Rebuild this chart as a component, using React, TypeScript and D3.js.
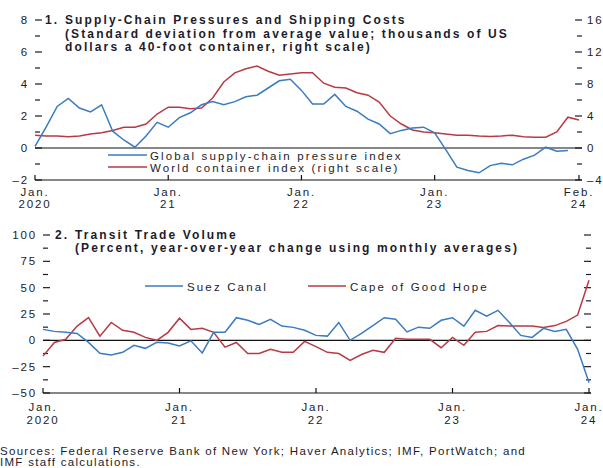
import React from "react";
import * as d3 from "d3";

// ---- Panel 1 data (monthly, Jan 2020 onward) ----
const gscpi = [0.1, 1.3, 2.6, 3.1, 2.5, 2.25, 2.7, 1.05, 0.5, 0.05, 0.75, 1.6, 1.3, 1.9, 2.2, 2.7, 2.9, 2.7, 2.9, 3.2, 3.3, 3.75, 4.2, 4.3, 3.6, 2.75, 2.75, 3.35, 2.6, 2.3, 1.8, 1.5, 0.9, 1.1, 1.25, 1.3, 0.95, -0.1, -1.2, -1.4, -1.55, -1.1, -0.95, -1.05, -0.7, -0.45, 0.05, -0.2, -0.15];
const containerIndex = [1.6, 1.5, 1.5, 1.4, 1.5, 1.75, 1.9, 2.2, 2.6, 2.6, 3.0, 4.25, 5.1, 5.1, 4.9, 5.0, 6.25, 8.25, 9.4, 9.9, 10.25, 9.6, 9.1, 9.25, 9.4, 9.4, 8.1, 7.6, 7.5, 6.9, 6.6, 5.75, 4.0, 3.0, 2.25, 2.0, 1.9, 1.75, 1.6, 1.6, 1.5, 1.45, 1.5, 1.6, 1.4, 1.35, 1.35, 2.0, 3.85, 3.5];
const leftTicks1 = [-2, 0, 2, 4, 6, 8];
const rightTicks1 = [-4, 0, 4, 8, 12, 16];
const xTicks1 = [
  { m: 0, l1: "Jan.", l2: "2020" },
  { m: 12, l1: "Jan.", l2: "21" },
  { m: 24, l1: "Jan.", l2: "22" },
  { m: 36, l1: "Jan.", l2: "23" },
  { m: 49, l1: "Feb.", l2: "24" },
];

// ---- Panel 2 data (monthly, Jan 2020 - Jan 2024) ----
const suez = [10.4, 8.5, 7.6, 6.6, -2, -12.3, -14, -11.4, -4.7, -7.6, -1.9, -2.5, -5.4, -0.5, -12, 7.6, 7.6, 21.5, 19, 15, 20, 13.5, 12.3, 9.5, 4.7, 4, 17, 0, 6.6, 14, 21.5, 20, 8, 12.5, 11.4, 19, 21.5, 13.5, 28.5, 23, 28.5, 17, 4.7, 2.8, 11.4, 8.5, 10.4, -8.5, -40];
const cape = [-15, -2, 1, 13.5, 21.5, 4, 17, 9.5, 7.6, 2.8, 0, 7.6, 21, 10.4, 11.4, 7.6, -6.5, -2, -12.5, -12.5, -8.5, -11.4, -11.4, -1, -6, -11.4, -12.5, -19, -13.5, -9.5, -11.4, 2, 1, 1, 1, -7, 2.8, -4.7, 7.6, 8.5, 14, 13.5, 13.5, 13.5, 12.3, 14, 18, 24, 57];
const leftTicks2 = [-50, -25, 0, 25, 50, 75, 100];
const xTicks2 = [
  { m: 0, l1: "Jan.", l2: "2020" },
  { m: 12, l1: "Jan.", l2: "21" },
  { m: 24, l1: "Jan.", l2: "22" },
  { m: 36, l1: "Jan.", l2: "23" },
  { m: 48, l1: "Jan.", l2: "24" },
];

const BLUE = "#3b7bbf";
const RED = "#b83a45";
const INK = "#1c1c2a";
const FONT = "'Liberation Sans', Arial, Helvetica, sans-serif";

export default function App() {
  // Panel 1 scales
  const x1 = d3.scaleLinear().domain([0, 49]).range([35, 579]);
  const yL1 = d3.scaleLinear().domain([-2, 8]).range([180, 20]);
  const yR1 = d3.scaleLinear().domain([-4, 16]).range([180, 20]);
  const left1 = 35, right1 = 582;

  // Panel 2 scales
  const x2 = d3.scaleLinear().domain([0, 48]).range([43, 589]);
  const y2 = d3.scaleLinear().domain([-50, 100]).range([393, 235]);
  const left2 = 43, right2 = 591;

  const lineL1 = d3.line<number>().x((_, i) => x1(i)).y((d) => yL1(d));
  const lineR1 = d3.line<number>().x((_, i) => x1(i)).y((d) => yR1(d));
  const line2 = d3.line<number>().x((_, i) => x2(i)).y((d) => y2(d));

  const minorL1 = d3.range(-1, 8, 2);
  const minorR1 = d3.range(-2, 16, 4);
  const minor2 = d3.range(-37.5, 100, 25);

  const txt = { fontFamily: FONT, fontSize: 11.5, fill: INK, letterSpacing: 2.15 } as React.CSSProperties;
  const tick = { ...txt, letterSpacing: 1.85 } as React.CSSProperties;
  const bold = { ...txt, fontSize: 12, fontWeight: 700, letterSpacing: 2.12 } as React.CSSProperties;
  const src = { ...txt, letterSpacing: 1.3 } as React.CSSProperties;

  return (
    <div style={{ position: "absolute", left: 0, top: 0 }}>
      <svg width={603} height={468} style={{ display: "block", background: "#fff" }}>
        {/* ===== Panel 1 ===== */}
        <text x={45} y={24} style={bold}>1.</text>
        <text x={65} y={24} style={bold}>Supply-Chain Pressures and Shipping Costs</text>
        <text x={65} y={38} style={bold}>(Standard deviation from average value; thousands of US</text>
        <text x={65} y={51} style={bold}>dollars a 40-foot container, right scale)</text>

        {leftTicks1.map((t) => (
          <g key={"l1" + t}>
            <line x1={left1} x2={left1 + 7} y1={yL1(t)} y2={yL1(t)} stroke={INK} strokeWidth={1.2} />
            <text x={29} y={yL1(t) + 4} textAnchor="end" style={tick}>{t < 0 ? "\u2013" + Math.abs(t) : t}</text>
          </g>
        ))}
        {minorL1.map((t) => (
          <line key={"ml1" + t} x1={left1} x2={left1 + 5} y1={yL1(t)} y2={yL1(t)} stroke={INK} strokeWidth={1.2} />
        ))}
        {rightTicks1.map((t) => (
          <g key={"r1" + t}>
            <line x1={right1 - 7} x2={right1} y1={yR1(t)} y2={yR1(t)} stroke={INK} strokeWidth={1.2} />
            <text x={587} y={yR1(t) + 4} textAnchor="start" style={tick}>{t < 0 ? "\u2013" + Math.abs(t) : t}</text>
          </g>
        ))}
        {minorR1.map((t) => (
          <line key={"mr1" + t} x1={right1 - 5} x2={right1} y1={yR1(t)} y2={yR1(t)} stroke={INK} strokeWidth={1.2} />
        ))}

        <line x1={left1} x2={right1} y1={yL1(0)} y2={yL1(0)} stroke="#111" strokeWidth={1.2} />
        <line x1={left1} x2={right1} y1={yL1(-2)} y2={yL1(-2)} stroke="#111" strokeWidth={1.2} />
        {xTicks1.map((t) => (
          <g key={"x1" + t.m}>
            <line x1={x1(t.m)} x2={x1(t.m)} y1={yL1(-2)} y2={yL1(-2) - 5} stroke="#111" strokeWidth={1.2} />
            <text x={x1(t.m)} y={196} textAnchor="middle" style={tick}>{t.l1}</text>
            <text x={x1(t.m)} y={208} textAnchor="middle" style={tick}>{t.l2}</text>
          </g>
        ))}

        <path d={lineR1(containerIndex) || ""} fill="none" stroke={RED} strokeWidth={1.5} />
        <path d={lineL1(gscpi) || ""} fill="none" stroke={BLUE} strokeWidth={1.5} />

        <line x1={108} x2={147} y1={155} y2={155} stroke={BLUE} strokeWidth={1.5} />
        <text x={150} y={159.5} style={txt}>Global supply-chain pressure index</text>
        <line x1={108} x2={147} y1={167} y2={167} stroke={RED} strokeWidth={1.5} />
        <text x={150} y={172} style={txt}>World container index (right scale)</text>

        {/* ===== Panel 2 ===== */}
        <text x={55} y={239} style={bold}>2.</text>
        <text x={75} y={239} style={bold}>Transit Trade Volume</text>
        <text x={75} y={252} style={bold}>(Percent, year-over-year change using monthly averages)</text>

        {leftTicks2.map((t) => (
          <g key={"l2" + t}>
            <line x1={left2} x2={left2 + 7} y1={y2(t)} y2={y2(t)} stroke={INK} strokeWidth={1.2} />
            <line x1={right2 - 7} x2={right2} y1={y2(t)} y2={y2(t)} stroke={INK} strokeWidth={1.2} />
            <text x={37} y={y2(t) + 4} textAnchor="end" style={tick}>{t < 0 ? "\u2013" + Math.abs(t) : t}</text>
          </g>
        ))}
        {minor2.map((t) => (
          <g key={"m2" + t}>
            <line x1={left2} x2={left2 + 5} y1={y2(t)} y2={y2(t)} stroke={INK} strokeWidth={1.2} />
            <line x1={right2 - 5} x2={right2} y1={y2(t)} y2={y2(t)} stroke={INK} strokeWidth={1.2} />
          </g>
        ))}

        <line x1={left2} x2={right2} y1={y2(0)} y2={y2(0)} stroke="#111" strokeWidth={1.2} />
        <line x1={left2} x2={right2} y1={y2(-50)} y2={y2(-50)} stroke="#111" strokeWidth={1.2} />
        {xTicks2.map((t) => (
          <g key={"x2" + t.m}>
            <line x1={x2(t.m)} x2={x2(t.m)} y1={y2(-50)} y2={y2(-50) - 5} stroke="#111" strokeWidth={1.2} />
            <text x={x2(t.m)} y={411} textAnchor="middle" style={tick}>{t.l1}</text>
            <text x={x2(t.m)} y={423.5} textAnchor="middle" style={tick}>{t.l2}</text>
          </g>
        ))}

        <path d={line2(cape) || ""} fill="none" stroke={RED} strokeWidth={1.5} />
        <path d={line2(suez) || ""} fill="none" stroke={BLUE} strokeWidth={1.5} />

        <line x1={145} x2={183} y1={286} y2={286} stroke={BLUE} strokeWidth={1.5} />
        <text x={187} y={290.5} style={txt}>Suez Canal</text>
        <line x1={308} x2={346} y1={286} y2={286} stroke={RED} strokeWidth={1.5} />
        <text x={350} y={290.5} style={txt}>Cape of Good Hope</text>

        {/* ===== Source ===== */}
        <text x={0} y={454.5} style={src}>Sources: Federal Reserve Bank of New York; Haver Analytics; IMF, PortWatch; and</text>
        <text x={0} y={465.5} style={src}>IMF staff calculations.</text>
      </svg>
    </div>
  );
}
